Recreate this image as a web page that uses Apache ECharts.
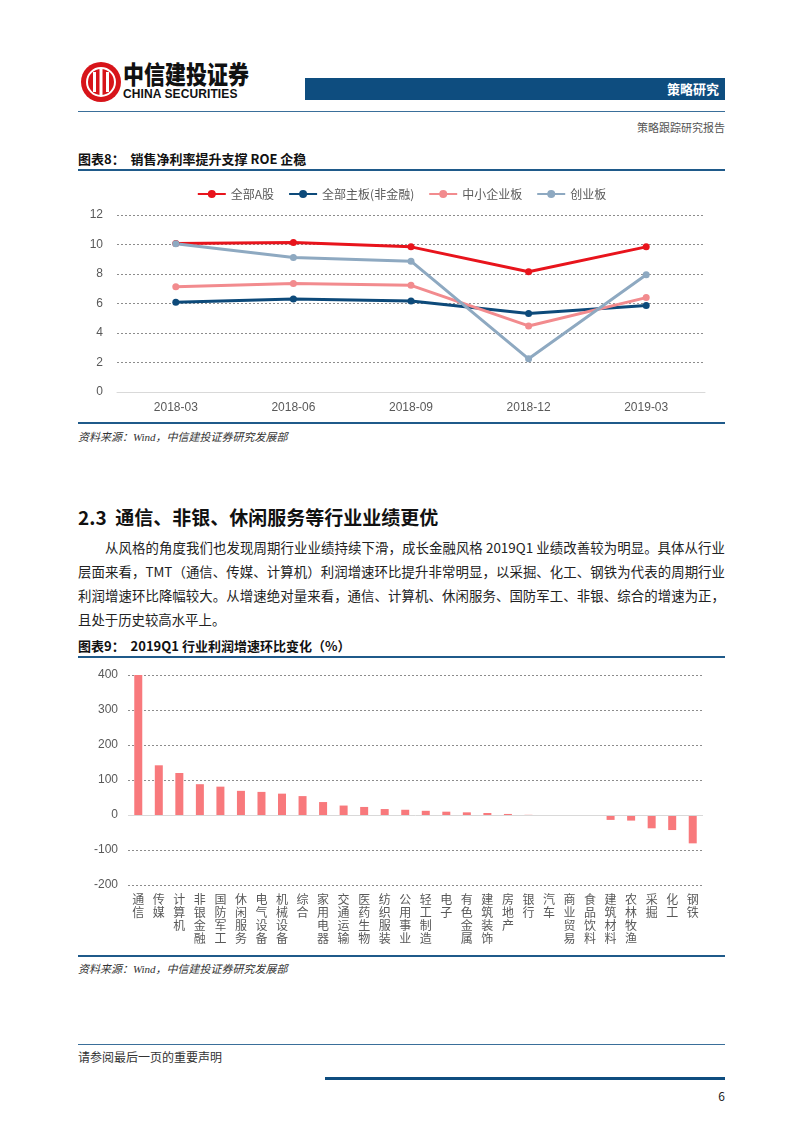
<!DOCTYPE html>
<html><head><meta charset="utf-8">
<script src="https://cdn.jsdelivr.net/npm/echarts@6/dist/echarts.min.js"></script>
<style>
body{margin:0;background:#fff;font-family:"Noto Sans CJK SC","Liberation Sans",sans-serif;color:#222;}
#page{position:relative;width:802px;height:1133px;overflow:hidden;}
.abs{position:absolute;}
.hline{position:absolute;left:78px;width:647px;height:2px;background:#1f5a8a;}
.ttl{position:absolute;left:78px;font-size:13px;font-weight:bold;color:#111;}
.src{position:absolute;left:78px;font-size:11px;font-style:italic;color:#333;font-family:"Liberation Serif","Noto Sans CJK SC",serif;}
.pl{position:absolute;left:78px;width:647px;font-size:13.4px;line-height:24px;text-align:justify;text-align-last:justify;color:#222;white-space:nowrap;}
</style></head>
<body><div id="page">
<svg class="abs" style="left:79px;top:60px" width="44" height="44" viewBox="0 0 44 44">
<circle cx="22" cy="22" r="20" fill="#d7141a"/>
<circle cx="22" cy="22" r="14" fill="none" stroke="#fff" stroke-width="2"/>
<rect x="14" y="12" width="3" height="20" fill="#fff"/><rect x="20.5" y="8" width="3" height="28" fill="#fff"/><rect x="27" y="12" width="3" height="20" fill="#fff"/>
</svg>
<div class="abs" style="left:123px;top:58px;font-size:21px;font-weight:900;color:#111;transform:scaleY(1.2);transform-origin:left top;line-height:26px;">中信建投证券</div>
<div class="abs" style="left:123px;top:87px;font-size:12px;font-weight:bold;font-family:'Liberation Sans',sans-serif;color:#111;line-height:14px;letter-spacing:0.1px;">CHINA SECURITIES</div>
<div class="abs" style="left:305px;top:78px;width:420px;height:22px;background:#0e4d7f;"></div>
<div class="abs" style="left:305px;top:79px;width:414px;text-align:right;font-size:13px;font-weight:bold;color:#fff;">策略研究</div>
<div class="hline" style="top:111px;height:1px;background:#3a6f9a"></div>
<div class="abs" style="left:500px;width:225px;top:119px;text-align:right;font-size:11px;color:#555;">策略跟踪研究报告</div>

<div class="ttl" style="top:149px;">图表8：&nbsp;&nbsp;销售净利率提升支撑 ROE 企稳</div>
<div class="hline" style="top:169px;"></div>
<div id="c1" class="abs" style="left:78px;top:175px;width:647px;height:245px;"></div>
<div class="hline" style="top:422px;"></div>
<div class="src" style="top:428px;">资料来源：Wind，中信建投证券研究发展部</div>

<div class="abs" style="left:78px;top:503px;font-size:19px;font-weight:bold;color:#111;">2.3&nbsp; 通信、非银、休闲服务等行业业绩更优</div>
<div class="pl" style="top:535px;left:105px;width:620px;">从风格的角度我们也发现周期行业业绩持续下滑，成长金融风格 2019Q1 业绩改善较为明显。具体从行业</div>
<div class="pl" style="top:559px;">层面来看，TMT（通信、传媒、计算机）利润增速环比提升非常明显，以采掘、化工、钢铁为代表的周期行业</div>
<div class="pl" style="top:583px;">利润增速环比降幅较大。从增速绝对量来看，通信、计算机、休闲服务、国防军工、非银、综合的增速为正，</div>
<div class="pl" style="top:607px;text-align:left;text-align-last:left;">且处于历史较高水平上。</div>

<div class="ttl" style="top:636px;">图表9：&nbsp;&nbsp;2019Q1 行业利润增速环比变化（%）</div>
<div class="hline" style="top:656px;"></div>
<div id="c2" class="abs" style="left:78px;top:660px;width:647px;height:292px;"></div>
<div class="hline" style="top:955px;"></div>
<div class="src" style="top:960px;">资料来源：Wind，中信建投证券研究发展部</div>

<div class="hline" style="top:1044px;height:1px;background:#3a6f9a"></div>
<div class="abs" style="left:78px;top:1048px;font-size:12px;color:#333;">请参阅最后一页的重要声明</div>
<div class="abs" style="left:325px;top:1077px;width:400px;height:3px;background:#0e4d7f;"></div>
<div class="abs" style="left:700px;width:25px;top:1087px;text-align:right;font-size:12px;color:#222;">6</div>
</div>
<script>
var quarters = ['2018-03','2018-06','2018-09','2018-12','2019-03'];
var allA = [10.07, 10.14, 9.84, 8.15, 9.84];
var mainBoard = [6.08, 6.31, 6.17, 5.32, 5.86];
var smeBoard = [7.14, 7.36, 7.23, 4.48, 6.40];
var gemBoard = [10.05, 9.12, 8.87, 2.25, 7.95];
var yTicks1 = [0, 2, 4, 6, 8, 10, 12];

var industries = ['通信','传媒','计算机','非银金融','国防军工','休闲服务','电气设备','机械设备','综合','家用电器','交通运输','医药生物','纺织服装','公用事业','轻工制造','电子','有色金属','建筑装饰','房地产','银行','汽车','商业贸易','食品饮料','建筑材料','农林牧渔','采掘','化工','钢铁'];
var growthChange = [400, 142, 120, 88, 81, 69, 66, 61, 54, 37, 27, 23, 17, 15, 12, 9.5, 7.6, 5.7, 3, 0.5, -1, -1, -2, -14, -16, -38, -43, -81];
var yTicks2 = [-200, -100, 0, 100, 200, 300, 400];

var axisFont = {color:'#595959', fontSize:12, fontFamily:'Liberation Sans, Arial, sans-serif'};
var dashGrid = {show:true, lineStyle:{color:'#8c8c8c', type:[2,2], width:1}};

var c1 = echarts.init(document.getElementById('c1'));
function ser(name, data, color){
  return {name:name, type:'line', data:data, symbol:'circle', symbolSize:7,
    lineStyle:{width:3, color:color}, itemStyle:{color:color}, emphasis:{disabled:true}};
}
c1.setOption({
  animation:false,
  legend:{top:8, left:'center', itemWidth:28, itemHeight:10, itemGap:14,
    textStyle:{color:'#595959', fontSize:12, fontFamily:'Noto Sans CJK SC'}},
  grid:{left:39, right:20, top:40, bottom:28, outerBoundsMode:'none'},
  xAxis:{type:'category', data:quarters, boundaryGap:true,
    axisLine:{show:true, lineStyle:{color:'#d9d9d9'}}, axisTick:{show:false},
    axisLabel:Object.assign({margin:10}, axisFont)},
  yAxis:{type:'value', min:yTicks1[0], max:yTicks1[yTicks1.length-1], interval:2,
    axisLine:{show:false}, axisTick:{show:false}, axisLabel:Object.assign({margin:14}, axisFont),
    splitLine:dashGrid},
  series:[ser('全部A股', allA, '#e8141c'), ser('全部主板(非金融)', mainBoard, '#0d4a7a'),
          ser('中小企业板', smeBoard, '#f28b8e'), ser('创业板', gemBoard, '#8ea9c1')]
});

var c2 = echarts.init(document.getElementById('c2'));
c2.setOption({
  animation:false,
  grid:{left:50, right:22, top:15, bottom:67, outerBoundsMode:'none'},
  xAxis:{type:'category', data:industries,
    axisLine:{show:false, onZero:false}, axisTick:{show:false},
    axisLabel:{interval:0, color:'#595959', fontSize:12, lineHeight:13, fontFamily:'Noto Sans CJK SC',
      margin:8, verticalAlign:'top',
      formatter:function(v){return v.split('').join('\n');}}},
  yAxis:{type:'value', min:yTicks2[0], max:yTicks2[yTicks2.length-1], interval:100,
    axisLine:{show:false}, axisTick:{show:false}, axisLabel:Object.assign({margin:10}, axisFont),
    splitLine:{show:true, lineStyle:{color:function(){return '#8c8c8c';}(), type:[2,2], width:1}}},
  series:[{type:'bar', data:growthChange, barWidth:8, itemStyle:{color:'#f8797c'}, emphasis:{disabled:true},
    markLine:{silent:true, symbol:'none', label:{show:false}, lineStyle:{color:'#d9d9d9', type:'solid', width:1},
      data:[{yAxis:0}]}}]
});
</script>
</body></html>
